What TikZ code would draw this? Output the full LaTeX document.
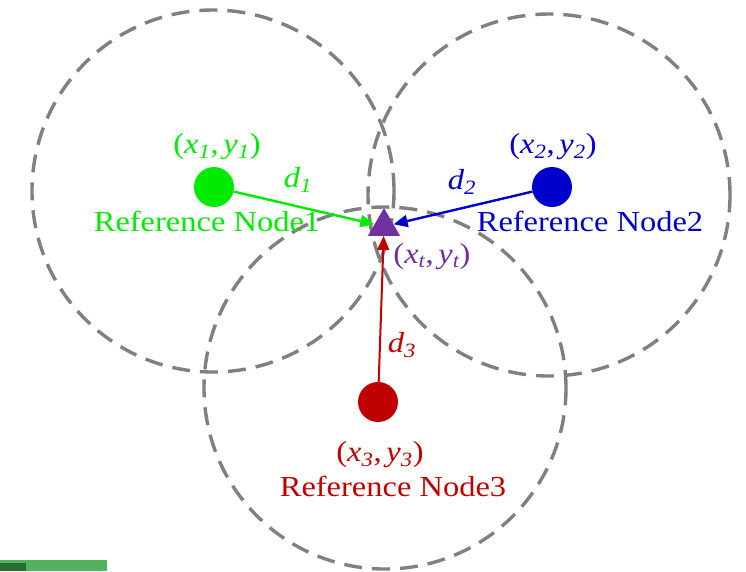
\documentclass[tikz,border=0pt]{standalone}
\usepackage{fontspec}
\setmainfont[FakeStretch=1.12]{Liberation Serif}
\usetikzlibrary{shapes.geometric,arrows.meta}
\definecolor{ngreen}{RGB}{0,235,0}
\definecolor{nblue}{RGB}{0,0,205}
\definecolor{nred}{RGB}{192,0,0}
\definecolor{npurple}{RGB}{112,48,160}
\definecolor{rgray}{RGB}{128,128,128}
\definecolor{barg}{RGB}{80,178,90}
\definecolor{bardark}{RGB}{40,110,50}
\newcommand{\mysub}[1]{\textsubscript{\itshape #1}}
\newcommand{\coordlbl}[1]{(\textit{x}\mysub{#1},\,\textit{y}\mysub{#1})}
\begin{document}
\begin{tikzpicture}[x=1pt,y=-1pt,
  rangecirc/.style={circle, draw=rgray, line width=3.4pt, dash pattern=on 18pt off 10pt, minimum size=362pt, inner sep=0pt},
  dot/.style={circle, minimum size=40pt, inner sep=0pt},
  target/.style={regular polygon, regular polygon sides=3, fill=npurple, minimum size=37pt, inner sep=0pt},
  link/.style={-{Triangle[length=14pt,width=12pt]}, line width=2.4pt},
  lbl/.style={font=\fontsize{29}{31}\selectfont, inner sep=0pt}]
\useasboundingbox (0,0) rectangle (746,571);
% range circles
\node[rangecirc] (c1) at (213,191) {};
\node[rangecirc] (c2) at (549,195) {};
\node[rangecirc] (c3) at (385,388) {};
% reference nodes and target
\node[dot, fill=ngreen] (n1) at (214,187) {};
\node[dot, fill=nblue] (n2) at (552,187) {};
\node[dot, fill=nred] (n3) at (378,402) {};
\node[target] (t) at (384,226.5) {};
% distances
\draw[link, ngreen] (n1) -- (t);
\draw[link, nblue] (n2) -- (t);
\draw[link, nred, line width=2pt] (n3) -- (t);
% labels
\node[lbl, text=ngreen] (p1) at (217,147) {\coordlbl{1}};
\node[lbl, text=ngreen] (d1) at (298,180) {\textit{d}\mysub{1}};
\node[lbl, text=ngreen] (r1) at (207,221) {Reference Node1};
\node[lbl, text=nblue] (p2) at (553,147) {\coordlbl{2}};
\node[lbl, text=nblue] (d2) at (462,182) {\textit{d}\mysub{2}};
\node[lbl, text=nblue] (r2) at (590,221) {Reference Node2};
\node[lbl, text=npurple] (pt) at (432,257) {\coordlbl{t}};
\node[lbl, text=nred] (d3) at (402,345) {\textit{d}\mysub{3}};
\node[lbl, text=nred] (p3) at (380,455) {\coordlbl{3}};
\node[lbl, text=nred] (r3) at (393,486) {Reference Node3};
% cropped bar at bottom left
\fill[barg] (0,560) rectangle (107,571);
\fill[bardark] (0,563) rectangle (26,571);
\end{tikzpicture}
\end{document}
